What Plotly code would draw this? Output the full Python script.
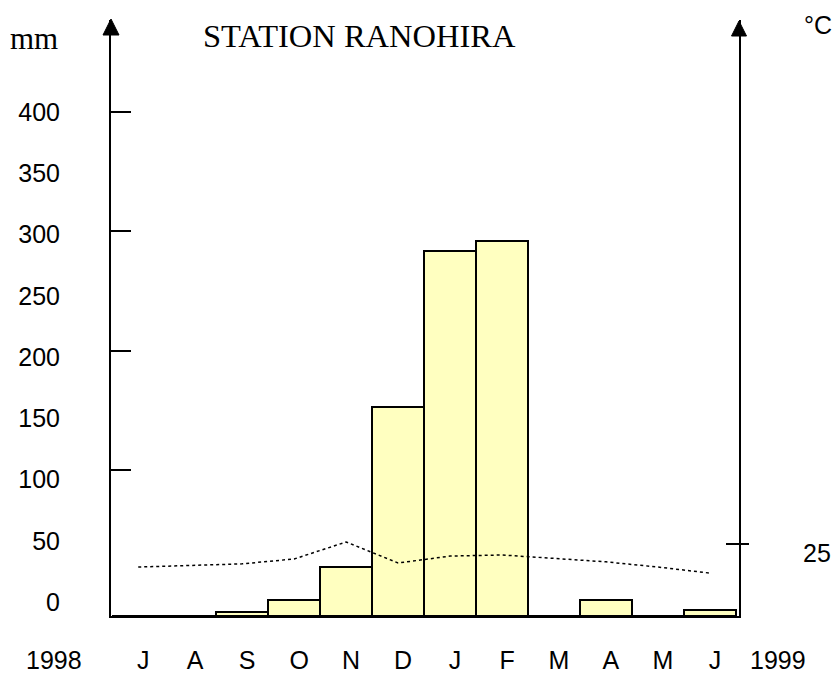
import plotly.graph_objects as go

months = ["J", "A", "S", "O", "N", "D", "J", "F", "M", "A", "M", "J"]
rain_mm = [0, 0, 3.3, 13, 40, 171, 298, 306, 0, 13, 0, 5]
temp_c = [17.0, 17.5, 18.1, 19.8, 25.7, 18.4, 20.8, 21.2, 20.1, 18.8, 17.0, 14.9]
mm_ticklabels = [0, 50, 100, 150, 200, 250, 300, 350, 400]
mm_tickmarks = [100, 200, 300, 400]
temp_ticks = [25]
title_text = "STATION RANOHIRA"
year_start, year_end = "1998", "1999"

W, H = 834, 675
L, R, T, B = 111, 739, 20, 616
pw, ph = R - L, B - T

def px(xp):
    return (xp - L) / pw

def py(yp):
    return (B - yp) / ph

x = list(range(len(months)))
SANS = "Liberation Sans"
SERIF = "Liberation Serif"

fig = go.Figure()
fig.add_trace(go.Bar(x=x, y=rain_mm, width=1.0,
                     marker=dict(color="#FFFFC0", line=dict(color="black", width=2)),
                     yaxis="y", showlegend=False, hoverinfo="skip"))
fig.add_trace(go.Scatter(x=x, y=temp_c, mode="lines",
                         line=dict(color="black", width=1.5, dash="dot"),
                         yaxis="y2", showlegend=False))
# invisible anchors so the tick-only overlay axes get drawn
fig.add_trace(go.Scatter(x=[x[0]], y=[mm_tickmarks[0]], mode="markers", opacity=0,
                         yaxis="y3", showlegend=False, hoverinfo="skip"))
fig.add_trace(go.Scatter(x=[x[0]], y=[temp_ticks[0]], mode="markers", opacity=0,
                         yaxis="y4", showlegend=False, hoverinfo="skip"))

mm_scale = 1.2245
tick_scale = 1.1933
tick_zero = 589.3
t_scale = 2.88

fig.update_layout(
    width=W, height=H,
    margin=dict(l=L, r=W - R, t=T, b=H - B, pad=0, autoexpand=False),
    paper_bgcolor="white", plot_bgcolor="white",
    bargap=0,
    xaxis=dict(range=[-0.524, 11.56], tickmode="array", tickvals=x, ticktext=months,
               showgrid=False, zeroline=False, showline=True, linecolor="black", linewidth=2,
               ticks="", tickfont=dict(family=SANS, size=25, color="black"),
               ticklabelstandoff=21, ticklabelshift=5, automargin=False),
    yaxis=dict(range=[0, ph / mm_scale], tickmode="array", tickvals=mm_ticklabels,
               showgrid=False, zeroline=False, showline=True, linecolor="black", linewidth=2,
               ticks="", tickfont=dict(family=SANS, size=25, color="black"),
               ticklabelshift=-14, ticklabelstandoff=44, automargin=False),
    yaxis3=dict(range=[(tick_zero - B) / tick_scale, (tick_zero - T) / tick_scale],
                overlaying="y", side="left", tickmode="array", tickvals=mm_tickmarks,
                showticklabels=False, ticks="inside", ticklen=20, tickwidth=2, tickcolor="black",
                showgrid=False, zeroline=False, showline=False, automargin=False),
    yaxis2=dict(range=[0, ph / t_scale], overlaying="y", side="right", tickmode="array",
                tickvals=temp_ticks, ticks="outside", ticklen=8, tickwidth=2, tickcolor="black",
                showgrid=False, zeroline=False, showline=True, linecolor="black", linewidth=2,
                tickfont=dict(family=SANS, size=25, color="black"),
                ticklabelshift=9, ticklabelstandoff=49, automargin=False),
    yaxis4=dict(range=[0, ph / t_scale], overlaying="y", side="right", tickmode="array",
                tickvals=temp_ticks, ticks="inside", ticklen=13, tickwidth=2, tickcolor="black",
                showticklabels=False, showgrid=False, zeroline=False, showline=False,
                automargin=False),
)

# arrowheads on both vertical axes
for (tx, ty, by, hw) in [(111, 19, 35, 8), (739, 21, 36, 7.5)]:
    fig.add_shape(type="path", xref="paper", yref="paper",
                  path=f"M {px(tx-hw)},{py(by)} L {px(tx+hw)},{py(by)} L {px(tx)},{py(ty)} Z",
                  fillcolor="black", line=dict(color="black", width=1))

def ann(text, xp, yp, family, size, xanchor="center"):
    fig.add_annotation(text=text, x=px(xp), y=py(yp), xref="paper", yref="paper",
                       showarrow=False, xanchor=xanchor, yanchor="middle",
                       font=dict(family=family, size=size, color="black"))

ann(title_text, 359, 36, SERIF, 32.5)
ann("mm", 34, 38, SERIF, 31)
ann("°C", 818, 25, SANS, 25)
ann(year_start, 54, 660, SANS, 25)
ann(year_end, 778, 660, SANS, 25)

fig.write_html("out.html", config={"displayModeBar": False},
               post_script="document.body.style.margin='0';document.body.style.overflow='hidden';")
